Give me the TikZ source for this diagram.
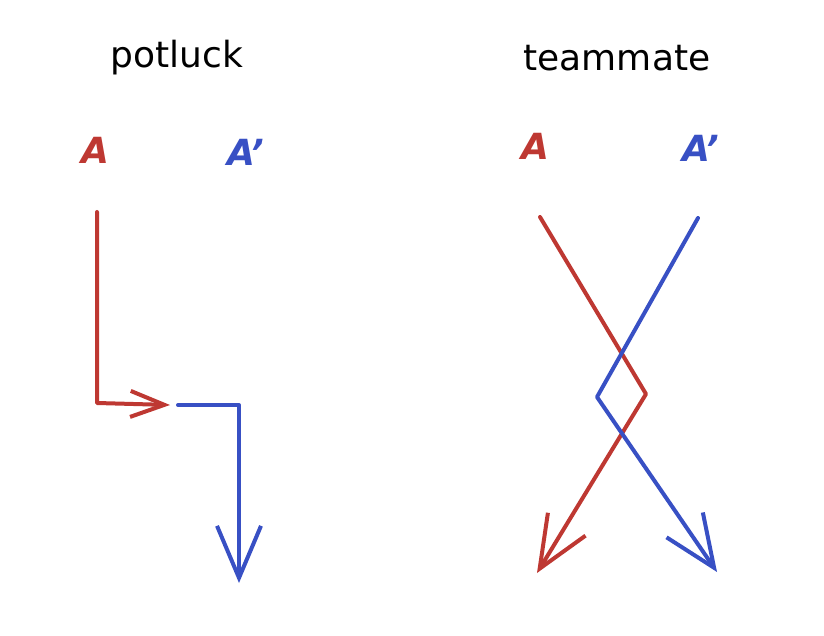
\documentclass[tikz,border=0pt]{standalone}
\usepackage{fontspec}
\setmainfont{DejaVu Sans}
\usetikzlibrary{arrows.meta}

\tikzset{
  redline/.style={line width=4pt,draw={rgb,255:red,190;green,56;blue,50},line join=round,line cap=round},
  blueline/.style={line width=4pt,draw={rgb,255:red,56;green,80;blue,196},line join=round,line cap=round},
  tip/.style={-{Straight Barb[length=52pt,width=44pt,line width=4pt]}},
  smalltip/.style={-{Straight Barb[length=34pt,width=26pt,line width=4pt]}},
  title/.style={font=\fontsize{36}{40}\selectfont},
  lbl/.style={font=\fontsize{36}{40}\selectfont\bfseries\itshape}
}

\begin{document}
\begin{tikzpicture}[x=1pt,y=-1pt]
\useasboundingbox (0,0) rectangle (824,636);

\node[title] (potluck) at (177,58) {potluck};
\node[title] (teammate) at (617,58) {teammate};

\node[lbl,text={rgb,255:red,190;green,56;blue,50}] (a1) at (95,150) {A};
\node[lbl,text={rgb,255:red,56;green,80;blue,196}] (b1) at (246,152) {A'};
\node[lbl,text={rgb,255:red,190;green,56;blue,50}] (a2) at (535,146) {A};
\node[lbl,text={rgb,255:red,56;green,80;blue,196}] (b2) at (701,148) {A'};

\coordinate (m0) at (97,212);
\coordinate (m1) at (97,403);
\coordinate (m2) at (170,405);
\coordinate (m3) at (178,405);
\coordinate (m4) at (239,405);
\coordinate (m5) at (239,583);

\coordinate (n0) at (540,217);
\coordinate (n1) at (646,394);
\coordinate (n2) at (537,573);
\coordinate (n3) at (698,218);
\coordinate (n4) at (597,397);
\coordinate (n5) at (717,572);

  \draw[redline,smalltip] (m0) -- (m1) -- (m2);
  \draw[blueline,tip] (m3) -- (m4) -- (m5);

  \draw[redline,tip] (n0) -- (n1) -- (n2);
  \draw[blueline,tip] (n3) -- (n4) -- (n5);
\end{tikzpicture}
\end{document}
